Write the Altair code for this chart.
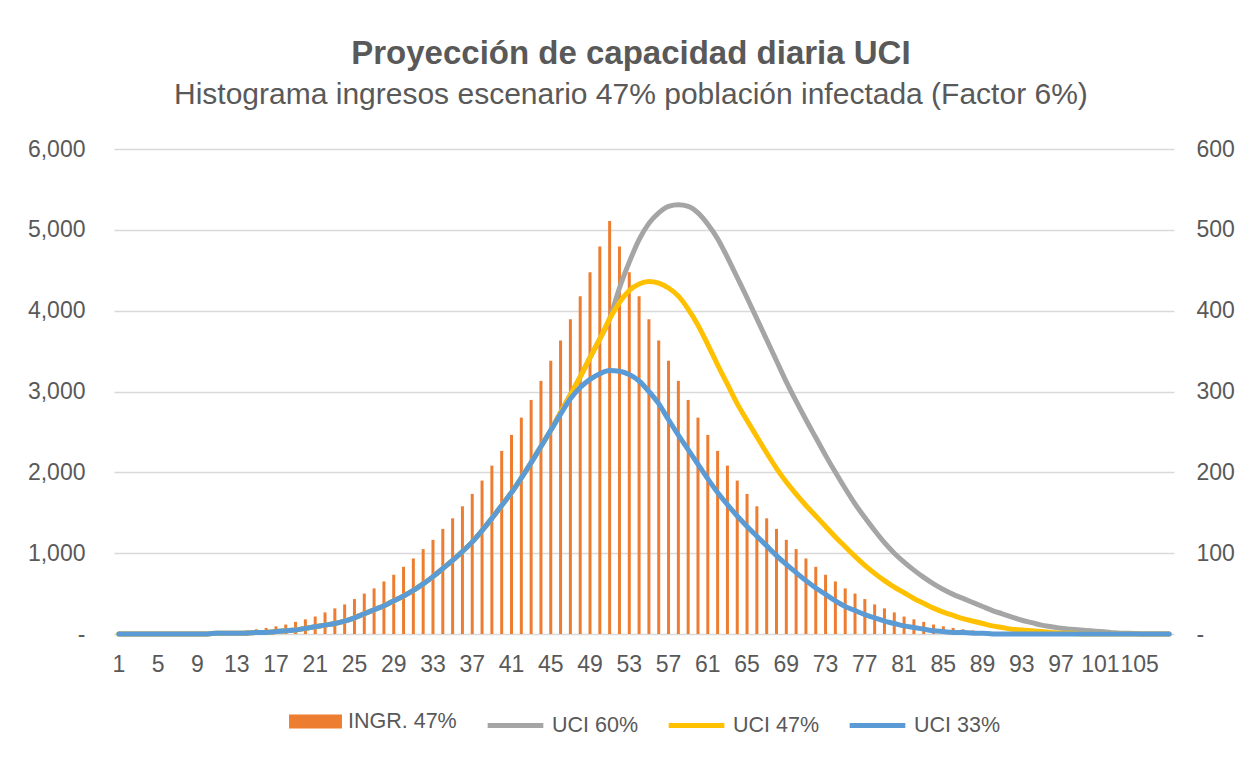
import altair as alt
import pandas as pd

# ---------------- data ----------------
days = list(range(1, 109))

ingr_47 = [
    0, 0, 1, 1, 2, 3, 5, 7, 10, 14, 19, 26, 34, 45, 58, 75,
    95, 117, 150, 181, 216, 267, 317, 366, 432, 500, 564, 650, 733, 831,
    934, 1050, 1165, 1300, 1431, 1580, 1733, 1898, 2083, 2265,
    2463, 2677, 2896, 3131, 3379, 3630, 3894, 4179, 4476, 4794, 5110,
    4794, 4476, 4179, 3894, 3630, 3379, 3131, 2896, 2677, 2463,
    2265, 2083, 1898, 1733, 1580, 1431, 1300, 1165, 1050, 934,
    831, 733, 650, 564, 500, 432, 366, 317, 267, 216,
    181, 150, 117, 95, 75, 58, 45, 34, 26, 19,
    14, 10, 7, 5, 3, 2, 1, 1, 0, 0,
    0, 0, 0, 0, 0, 0, 0,
]

uci_33 = [
    0, 0, 0, 0, 0, 0, 0, 0, 0, 0,
    1, 1, 1, 1, 2, 2, 3, 4, 5, 7,
    9, 11, 13, 16, 20, 25, 30, 35, 41, 47,
    54, 62, 71, 81, 91, 102, 114, 128, 143, 159,
    175, 193, 212, 232, 252, 272, 291, 305, 315, 322,
    326, 325, 321, 313, 300, 285, 265, 246, 228, 210,
    192, 175, 160, 146, 133, 121, 109, 97, 86, 76,
    66, 57, 49, 41, 34, 29, 24, 20, 16, 13,
    10, 8, 6, 4, 3, 2, 2, 1, 1, 0,
    0, 0, 0, 0, 0, 0, 0, 0, 0, 0,
    0, 0, 0, 0, 0, 0, 0, 0,
]

uci_47 = [
    0, 0, 0, 0, 0, 0, 0, 0, 0, 0,
    1, 1, 1, 1, 2, 2, 3, 4, 5, 7,
    9, 11, 13, 16, 20, 25, 30, 35, 41, 47,
    54, 62, 71, 81, 91, 102, 114, 128, 143, 159,
    175, 193, 212, 232, 252, 274, 296, 318, 342, 365,
    390, 410, 425, 433, 436, 434, 428, 418, 402, 382,
    358, 333, 309, 285, 264, 244, 224, 205, 188, 173,
    159, 146, 133, 120, 108, 96, 85, 75, 66, 58,
    51, 44, 38, 32, 27, 23, 19, 16, 13, 10,
    8, 6, 5, 4, 3, 2, 1, 1, 0, 0,
    0, 0, 0, 0, 0, 0, 0, 0,
]

uci_60 = [
    0, 0, 0, 0, 0, 0, 0, 0, 0, 0,
    1, 1, 1, 1, 2, 2, 3, 4, 5, 7,
    9, 11, 13, 16, 20, 25, 30, 35, 41, 47,
    54, 62, 71, 81, 91, 102, 114, 128, 143, 159,
    175, 193, 212, 232, 252, 274, 296, 318, 342, 365,
    390, 428, 460, 488, 508, 521, 529, 531, 529, 521,
    507, 489, 466, 441, 416, 390, 364, 338, 312, 288,
    265, 243, 221, 200, 180, 161, 144, 128, 113, 100,
    89, 79, 70, 62, 55, 49, 44, 39, 34, 29,
    25, 21, 17, 14, 11, 9, 7, 6, 5, 4,
    3, 2, 1, 1, 0, 0, 0, 0,
]

x_tick_labels = [1, 5, 9, 13, 17, 21, 25, 29, 33, 37, 41, 45, 49, 53,
                 57, 61, 65, 69, 73, 77, 81, 85, 89, 93, 97, 101, 105]
left_ticks = [0, 1000, 2000, 3000, 4000, 5000, 6000]
right_ticks = [0, 100, 200, 300, 400, 500, 600]

bar_name = "INGR. 47%"
bar_color = "#ED7D31"
line_names = ["UCI 60%", "UCI 47%", "UCI 33%"]
line_colors = ["#A5A5A5", "#FFC000", "#5B9BD5"]

title_text = "Proyección de capacidad diaria UCI"
subtitle_text = "Histograma ingresos escenario 47% población infectada (Factor 6%)"

# ---------------- frames ----------------
bars_df = pd.DataFrame({"day": days, "value": ingr_47, "series": bar_name})
line_frames = {
    line_names[0]: pd.DataFrame({"day": days, "value": uci_60, "series": line_names[0]}),
    line_names[1]: pd.DataFrame({"day": days, "value": uci_47, "series": line_names[1]}),
    line_names[2]: pd.DataFrame({"day": days, "value": uci_33, "series": line_names[2]}),
}

FONT = "Liberation Sans"
TXT = "#595959"
GRID = "#D9D9D9"

bar_legend = alt.Legend(
    title=None,
    orient="none",
    legendX=175,
    legendY=546,
    direction="horizontal",
    labelFont=FONT,
    labelFontSize=21.5,
    labelColor=TXT,
    symbolType="M-1,-0.26H1V0.26H-1Z",
    symbolSize=2800,
    symbolStrokeWidth=0,
    symbolOpacity=1,
    labelOffset=6,
)

line_legend = alt.Legend(
    title=None,
    orient="none",
    legendX=371,
    legendY=546,
    direction="horizontal",
    labelFont=FONT,
    labelFontSize=21.5,
    labelColor=TXT,
    symbolType="stroke",
    symbolSize=3100,
    symbolStrokeWidth=5,
    symbolOpacity=1,
    columnPadding=19,
    labelOffset=6,
)

bar_color_enc = alt.Color(
    "series:N",
    scale=alt.Scale(domain=[bar_name], range=[bar_color]),
    legend=bar_legend,
)
line_color_enc = alt.Color(
    "series:N",
    scale=alt.Scale(domain=line_names, range=line_colors),
    legend=line_legend,
)

x_enc = alt.X(
    "day:O",
    scale=alt.Scale(paddingInner=0, paddingOuter=0),
    axis=alt.Axis(
        values=x_tick_labels,
        labelAngle=0,
        title=None,
        ticks=False,
        domain=False,
        grid=False,
        labelFont=FONT,
        labelFontSize=23,
        labelColor=TXT,
        labelPadding=19,
        labelOverlap=False,
    ),
)

bars = alt.Chart(bars_df).mark_bar(size=3).encode(
    x=x_enc,
    y=alt.Y(
        "value:Q",
        scale=alt.Scale(domain=[0, 6000], nice=False),
        axis=alt.Axis(
            values=left_ticks,
            title=None,
            ticks=False,
            domain=False,
            grid=True,
            gridColor=GRID,
            gridWidth=1.5,
            labelFont=FONT,
            labelFontSize=23,
            labelColor=TXT,
            labelPadding=29,
            labelExpr="datum.value == 0 ? '-  ' : format(datum.value, ',')",
        ),
    ),
    color=bar_color_enc,
)

right_axis = alt.Axis(
    values=right_ticks,
    orient="right",
    title=None,
    ticks=False,
    domain=False,
    grid=False,
    labelFont=FONT,
    labelFontSize=23,
    labelColor=TXT,
    labelPadding=22,
    labelExpr="datum.value == 0 ? ' -' : format(datum.value, ',')",
)

def line_layer(name):
    return alt.Chart(line_frames[name]).mark_line(
        strokeWidth=5, interpolate="monotone", strokeCap="round"
    ).encode(
        x=x_enc,
        y=alt.Y("value:Q", scale=alt.Scale(domain=[0, 600], nice=False), axis=right_axis),
        color=line_color_enc,
    )

lines = alt.layer(
    line_layer(line_names[0]),
    line_layer(line_names[1]),
    line_layer(line_names[2]),
)

chart = (
    alt.layer(bars, lines)
    .resolve_scale(y="independent", color="independent")
    .properties(
        width=1060,
        height=485,
        padding={"left": 19, "top": 30, "right": 12, "bottom": 5},
        title=alt.TitleParams(
            text=title_text,
            subtitle=subtitle_text,
            anchor="middle",
            frame="bounds",
            font=FONT,
            fontSize=33,
            fontWeight="bold",
            color=TXT,
            subtitleFont=FONT,
            subtitleFontSize=30,
            subtitleColor=TXT,
            subtitlePadding=9,
            offset=28,
        ),
        background="white",
    )
    .configure_view(stroke=None)
)

chart.save("out.html", embed_options={"renderer": "svg", "actions": False})
